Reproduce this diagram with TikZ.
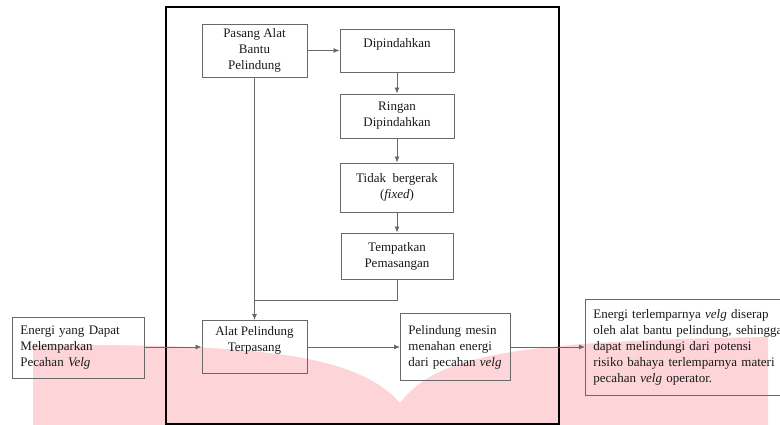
\documentclass[tikz,border=0pt]{standalone}
\usepackage{fontspec}
\setmainfont{Liberation Serif}
\usetikzlibrary{arrows.meta,positioning}
\definecolor{boxgrey}{RGB}{105,105,105}
\definecolor{wmpink}{RGB}{253,212,216}

\begin{document}
\begin{tikzpicture}[x=1pt, y=-1pt,
  every node/.style={font=\fontsize{13}{16}\selectfont, text=black!90},
  stepbox/.style={draw=boxgrey, line width=0.9pt, inner sep=2pt, align=center},
  notebox/.style={draw=boxgrey, line width=0.9pt, anchor=north west, align=left,
    inner xsep=8pt, inner ysep=2pt},
  link/.style={draw=boxgrey, line width=0.8pt},
  flow/.style={link, -{Latex[length=6pt,width=5pt]}}]

\useasboundingbox (0,0) rectangle (780,425);
\clip (0,0) rectangle (780,425);

% watermark band
\fill[wmpink] (33,345) .. controls (250,344) and (355,352) .. (400,403)
  .. controls (435,358) and (500,341) .. (768,337) -- (768,425) -- (33,425) -- cycle;

% panel
\draw[line width=1.2pt] (166,7) rectangle (559,424);

\node[stepbox, minimum width=105, minimum height=53] (pasang) at (254.5,50.5) {Pasang Alat\\Bantu\\Pelindung};
\node[stepbox, minimum width=114, minimum height=43] (pindah) at (397,50.5) {Dipindahkan\\\mbox{}};
\node[stepbox, minimum width=114, minimum height=44] (ringan) at (397,116) {Ringan\\Dipindahkan};
\node[stepbox, minimum width=113, minimum height=49] (tetap) at (397,187.5) {Tidak\ \ bergerak\\(\textit{fixed})};
\node[stepbox, minimum width=112, minimum height=46] (tempat) at (397,256) {Tempatkan\\Pemasangan};
\node[stepbox, minimum width=105, minimum height=53] (alat) at (254.5,347) {Alat Pelindung\\Terpasang\\\mbox{}};

\node[notebox, text width=116, minimum height=61] (energi) at (12,317) {Energi yang Dapat\\Melemparkan\\Pecahan \textit{Velg}};
\node[notebox, text width=94, minimum height=67] (tahan) at (400,313) {Pelindung mesin\\menahan energi\\dari pecahan \textit{velg}};
\node[notebox, text width=200, minimum height=96] (hasil) at (585,299) {Energi terlemparnya \textit{velg} diserap\\oleh alat bantu pelindung, sehingga\\dapat melindungi dari potensi\\risiko bahaya terlemparnya materi\\pecahan \textit{velg} operator.};

\coordinate (gabung) at (254.5,300);

\draw[flow] (pasang) -- (pindah);
\draw[flow] (pindah) -- (ringan);
\draw[flow] (ringan) -- (tetap);
\draw[flow] (tetap) -- (tempat);
\draw[link] (tempat.south) |- (gabung);
\draw[flow] (pasang) -- (alat);
\draw[flow] (energi.east |- alat.west) -- (alat.west);
\draw[flow] (alat.east) -- (tahan.west |- alat.east);
\draw[flow] (tahan.east |- alat.east) -- (hasil.west |- alat.east);

\end{tikzpicture}
\end{document}
